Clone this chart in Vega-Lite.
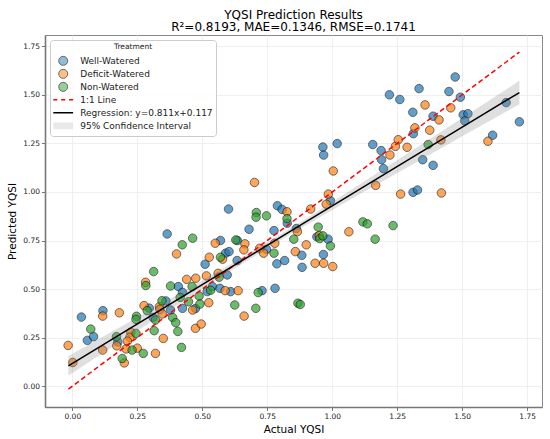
{
  "$schema": "https://vega.github.io/schema/vega-lite/v6.json",
  "width": 497,
  "height": 372,
  "autosize": {"type": "none"},
  "padding": {"left": 45, "top": 35, "right": 8, "bottom": 32},
  "title": {
    "text": ["YQSI Prediction Results", "R²=0.8193, MAE=0.1346, RMSE=0.1741"],
    "fontSize": 12,
    "fontWeight": "normal",
    "lineHeight": 12.5,
    "offset": 1,
    "anchor": "middle",
    "color": "black"
  },
  "config": {
    "font": "DejaVu Sans",
    "view": {"stroke": "#888888", "strokeWidth": 1},
    "axis": {
      "grid": true,
      "gridColor": "#ebebeb",
      "gridWidth": 0.8,
      "domainColor": "#777777",
      "domainWidth": 1.6,
      "tickColor": "#777777",
      "tickSize": 3.5,
      "labelFontSize": 7.5,
      "labelColor": "#222222",
      "labelPadding": 2,
      "titleFontSize": 10.5,
      "titleFontWeight": "normal",
      "titleColor": "black"
    }
  },
  "datasets": {
    "points": [
      {"actual": 0.035, "predicted": 0.356, "Treatment": "Well-Watered"},
      {"actual": 0.058, "predicted": 0.236, "Treatment": "Well-Watered"},
      {"actual": 0.082, "predicted": 0.255, "Treatment": "Well-Watered"},
      {"actual": 0.118, "predicted": 0.389, "Treatment": "Well-Watered"},
      {"actual": 0.175, "predicted": 0.228, "Treatment": "Well-Watered"},
      {"actual": 0.296, "predicted": 0.402, "Treatment": "Well-Watered"},
      {"actual": 0.311, "predicted": 0.354, "Treatment": "Well-Watered"},
      {"actual": 0.36, "predicted": 0.439, "Treatment": "Well-Watered"},
      {"actual": 0.378, "predicted": 0.392, "Treatment": "Well-Watered"},
      {"actual": 0.408, "predicted": 0.513, "Treatment": "Well-Watered"},
      {"actual": 0.424, "predicted": 0.483, "Treatment": "Well-Watered"},
      {"actual": 0.424, "predicted": 0.401, "Treatment": "Well-Watered"},
      {"actual": 0.365, "predicted": 0.784, "Treatment": "Well-Watered"},
      {"actual": 0.474, "predicted": 0.4, "Treatment": "Well-Watered"},
      {"actual": 0.511, "predicted": 0.628, "Treatment": "Well-Watered"},
      {"actual": 0.519, "predicted": 0.487, "Treatment": "Well-Watered"},
      {"actual": 0.539, "predicted": 0.513, "Treatment": "Well-Watered"},
      {"actual": 0.568, "predicted": 0.504, "Treatment": "Well-Watered"},
      {"actual": 0.57, "predicted": 0.75, "Treatment": "Well-Watered"},
      {"actual": 0.59, "predicted": 0.685, "Treatment": "Well-Watered"},
      {"actual": 0.603, "predicted": 0.693, "Treatment": "Well-Watered"},
      {"actual": 0.596, "predicted": 0.573, "Treatment": "Well-Watered"},
      {"actual": 0.609, "predicted": 0.487, "Treatment": "Well-Watered"},
      {"actual": 0.634, "predicted": 0.647, "Treatment": "Well-Watered"},
      {"actual": 0.635, "predicted": 0.75, "Treatment": "Well-Watered"},
      {"actual": 0.68, "predicted": 0.808, "Treatment": "Well-Watered"},
      {"actual": 0.73, "predicted": 0.492, "Treatment": "Well-Watered"},
      {"actual": 0.747, "predicted": 0.705, "Treatment": "Well-Watered"},
      {"actual": 0.601, "predicted": 0.912, "Treatment": "Well-Watered"},
      {"actual": 0.776, "predicted": 0.801, "Treatment": "Well-Watered"},
      {"actual": 0.78, "predicted": 0.504, "Treatment": "Well-Watered"},
      {"actual": 0.787, "predicted": 0.63, "Treatment": "Well-Watered"},
      {"actual": 0.789, "predicted": 0.929, "Treatment": "Well-Watered"},
      {"actual": 0.807, "predicted": 0.91, "Treatment": "Well-Watered"},
      {"actual": 0.817, "predicted": 0.647, "Treatment": "Well-Watered"},
      {"actual": 0.827, "predicted": 0.839, "Treatment": "Well-Watered"},
      {"actual": 0.862, "predicted": 0.812, "Treatment": "Well-Watered"},
      {"actual": 0.883, "predicted": 0.674, "Treatment": "Well-Watered"},
      {"actual": 0.884, "predicted": 0.612, "Treatment": "Well-Watered"},
      {"actual": 0.941, "predicted": 0.769, "Treatment": "Well-Watered"},
      {"actual": 0.966, "predicted": 0.678, "Treatment": "Well-Watered"},
      {"actual": 0.984, "predicted": 0.757, "Treatment": "Well-Watered"},
      {"actual": 0.993, "predicted": 0.955, "Treatment": "Well-Watered"},
      {"actual": 0.964, "predicted": 1.231, "Treatment": "Well-Watered"},
      {"actual": 0.967, "predicted": 1.19, "Treatment": "Well-Watered"},
      {"actual": 1.019, "predicted": 1.249, "Treatment": "Well-Watered"},
      {"actual": 1.156, "predicted": 1.244, "Treatment": "Well-Watered"},
      {"actual": 1.188, "predicted": 1.213, "Treatment": "Well-Watered"},
      {"actual": 1.19, "predicted": 1.166, "Treatment": "Well-Watered"},
      {"actual": 1.197, "predicted": 1.12, "Treatment": "Well-Watered"},
      {"actual": 1.22, "predicted": 1.5, "Treatment": "Well-Watered"},
      {"actual": 1.26, "predicted": 1.476, "Treatment": "Well-Watered"},
      {"actual": 1.31, "predicted": 1.41, "Treatment": "Well-Watered"},
      {"actual": 1.312, "predicted": 1.3, "Treatment": "Well-Watered"},
      {"actual": 1.311, "predicted": 0.998, "Treatment": "Well-Watered"},
      {"actual": 1.328, "predicted": 1.01, "Treatment": "Well-Watered"},
      {"actual": 1.334, "predicted": 1.532, "Treatment": "Well-Watered"},
      {"actual": 1.348, "predicted": 1.166, "Treatment": "Well-Watered"},
      {"actual": 1.388, "predicted": 1.39, "Treatment": "Well-Watered"},
      {"actual": 1.388, "predicted": 1.137, "Treatment": "Well-Watered"},
      {"actual": 1.449, "predicted": 1.517, "Treatment": "Well-Watered"},
      {"actual": 1.473, "predicted": 1.592, "Treatment": "Well-Watered"},
      {"actual": 1.493, "predicted": 1.488, "Treatment": "Well-Watered"},
      {"actual": 1.504, "predicted": 1.397, "Treatment": "Well-Watered"},
      {"actual": 1.522, "predicted": 1.403, "Treatment": "Well-Watered"},
      {"actual": 1.51, "predicted": 1.366, "Treatment": "Well-Watered"},
      {"actual": 1.617, "predicted": 1.292, "Treatment": "Well-Watered"},
      {"actual": 1.669, "predicted": 1.46, "Treatment": "Well-Watered"},
      {"actual": 1.72, "predicted": 1.361, "Treatment": "Well-Watered"},
      {"actual": -0.016, "predicted": 0.21, "Treatment": "Deficit-Watered"},
      {"actual": 0.002, "predicted": 0.122, "Treatment": "Deficit-Watered"},
      {"actual": 0.117, "predicted": 0.361, "Treatment": "Deficit-Watered"},
      {"actual": 0.117, "predicted": 0.186, "Treatment": "Deficit-Watered"},
      {"actual": 0.181, "predicted": 0.378, "Treatment": "Deficit-Watered"},
      {"actual": 0.171, "predicted": 0.208, "Treatment": "Deficit-Watered"},
      {"actual": 0.2, "predicted": 0.12, "Treatment": "Deficit-Watered"},
      {"actual": 0.225, "predicted": 0.278, "Treatment": "Deficit-Watered"},
      {"actual": 0.222, "predicted": 0.252, "Treatment": "Deficit-Watered"},
      {"actual": 0.212, "predicted": 0.232, "Treatment": "Deficit-Watered"},
      {"actual": 0.207, "predicted": 0.192, "Treatment": "Deficit-Watered"},
      {"actual": 0.25, "predicted": 0.196, "Treatment": "Deficit-Watered"},
      {"actual": 0.32, "predicted": 0.169, "Treatment": "Deficit-Watered"},
      {"actual": 0.282, "predicted": 0.535, "Treatment": "Deficit-Watered"},
      {"actual": 0.276, "predicted": 0.415, "Treatment": "Deficit-Watered"},
      {"actual": 0.335, "predicted": 0.409, "Treatment": "Deficit-Watered"},
      {"actual": 0.337, "predicted": 0.396, "Treatment": "Deficit-Watered"},
      {"actual": 0.35, "predicted": 0.246, "Treatment": "Deficit-Watered"},
      {"actual": 0.346, "predicted": 0.372, "Treatment": "Deficit-Watered"},
      {"actual": 0.401, "predicted": 0.681, "Treatment": "Deficit-Watered"},
      {"actual": 0.44, "predicted": 0.55, "Treatment": "Deficit-Watered"},
      {"actual": 0.475, "predicted": 0.556, "Treatment": "Deficit-Watered"},
      {"actual": 0.463, "predicted": 0.392, "Treatment": "Deficit-Watered"},
      {"actual": 0.474, "predicted": 0.298, "Treatment": "Deficit-Watered"},
      {"actual": 0.496, "predicted": 0.32, "Treatment": "Deficit-Watered"},
      {"actual": 0.516, "predicted": 0.568, "Treatment": "Deficit-Watered"},
      {"actual": 0.525, "predicted": 0.43, "Treatment": "Deficit-Watered"},
      {"actual": 0.527, "predicted": 0.664, "Treatment": "Deficit-Watered"},
      {"actual": 0.561, "predicted": 0.581, "Treatment": "Deficit-Watered"},
      {"actual": 0.55, "predicted": 0.736, "Treatment": "Deficit-Watered"},
      {"actual": 0.578, "predicted": 0.654, "Treatment": "Deficit-Watered"},
      {"actual": 0.588, "predicted": 0.492, "Treatment": "Deficit-Watered"},
      {"actual": 0.638, "predicted": 0.492, "Treatment": "Deficit-Watered"},
      {"actual": 0.664, "predicted": 0.733, "Treatment": "Deficit-Watered"},
      {"actual": 0.66, "predicted": 0.702, "Treatment": "Deficit-Watered"},
      {"actual": 0.661, "predicted": 0.361, "Treatment": "Deficit-Watered"},
      {"actual": 0.721, "predicted": 0.71, "Treatment": "Deficit-Watered"},
      {"actual": 0.736, "predicted": 0.685, "Treatment": "Deficit-Watered"},
      {"actual": 0.701, "predicted": 1.049, "Treatment": "Deficit-Watered"},
      {"actual": 0.779, "predicted": 0.736, "Treatment": "Deficit-Watered"},
      {"actual": 0.826, "predicted": 0.898, "Treatment": "Deficit-Watered"},
      {"actual": 0.866, "predicted": 0.796, "Treatment": "Deficit-Watered"},
      {"actual": 0.858, "predicted": 0.693, "Treatment": "Deficit-Watered"},
      {"actual": 0.9, "predicted": 0.728, "Treatment": "Deficit-Watered"},
      {"actual": 0.917, "predicted": 0.912, "Treatment": "Deficit-Watered"},
      {"actual": 0.934, "predicted": 0.633, "Treatment": "Deficit-Watered"},
      {"actual": 0.967, "predicted": 0.633, "Treatment": "Deficit-Watered"},
      {"actual": 1.002, "predicted": 0.616, "Treatment": "Deficit-Watered"},
      {"actual": 0.977, "predicted": 0.937, "Treatment": "Deficit-Watered"},
      {"actual": 0.985, "predicted": 0.989, "Treatment": "Deficit-Watered"},
      {"actual": 1.004, "predicted": 1.108, "Treatment": "Deficit-Watered"},
      {"actual": 1.064, "predicted": 0.795, "Treatment": "Deficit-Watered"},
      {"actual": 1.167, "predicted": 1.034, "Treatment": "Deficit-Watered"},
      {"actual": 1.222, "predicted": 1.19, "Treatment": "Deficit-Watered"},
      {"actual": 1.243, "predicted": 1.235, "Treatment": "Deficit-Watered"},
      {"actual": 1.254, "predicted": 1.269, "Treatment": "Deficit-Watered"},
      {"actual": 1.288, "predicted": 1.23, "Treatment": "Deficit-Watered"},
      {"actual": 1.263, "predicted": 0.989, "Treatment": "Deficit-Watered"},
      {"actual": 1.318, "predicted": 1.33, "Treatment": "Deficit-Watered"},
      {"actual": 1.357, "predicted": 1.448, "Treatment": "Deficit-Watered"},
      {"actual": 1.375, "predicted": 1.318, "Treatment": "Deficit-Watered"},
      {"actual": 1.411, "predicted": 1.371, "Treatment": "Deficit-Watered"},
      {"actual": 1.418, "predicted": 1.268, "Treatment": "Deficit-Watered"},
      {"actual": 1.42, "predicted": 0.995, "Treatment": "Deficit-Watered"},
      {"actual": 1.456, "predicted": 1.433, "Treatment": "Deficit-Watered"},
      {"actual": 1.599, "predicted": 1.261, "Treatment": "Deficit-Watered"},
      {"actual": 0.95, "predicted": 0.775, "Treatment": "Deficit-Watered"},
      {"actual": 0.071, "predicted": 0.294, "Treatment": "Non-Watered"},
      {"actual": 0.17, "predicted": 0.255, "Treatment": "Non-Watered"},
      {"actual": 0.192, "predicted": 0.143, "Treatment": "Non-Watered"},
      {"actual": 0.23, "predicted": 0.186, "Treatment": "Non-Watered"},
      {"actual": 0.245, "predicted": 0.272, "Treatment": "Non-Watered"},
      {"actual": 0.247, "predicted": 0.36, "Treatment": "Non-Watered"},
      {"actual": 0.245, "predicted": 0.344, "Treatment": "Non-Watered"},
      {"actual": 0.273, "predicted": 0.169, "Treatment": "Non-Watered"},
      {"actual": 0.283, "predicted": 0.518, "Treatment": "Non-Watered"},
      {"actual": 0.313, "predicted": 0.59, "Treatment": "Non-Watered"},
      {"actual": 0.288, "predicted": 0.389, "Treatment": "Non-Watered"},
      {"actual": 0.315, "predicted": 0.286, "Treatment": "Non-Watered"},
      {"actual": 0.345, "predicted": 0.44, "Treatment": "Non-Watered"},
      {"actual": 0.32, "predicted": 0.341, "Treatment": "Non-Watered"},
      {"actual": 0.378, "predicted": 0.516, "Treatment": "Non-Watered"},
      {"actual": 0.386, "predicted": 0.354, "Treatment": "Non-Watered"},
      {"actual": 0.398, "predicted": 0.327, "Treatment": "Non-Watered"},
      {"actual": 0.406, "predicted": 0.282, "Treatment": "Non-Watered"},
      {"actual": 0.42, "predicted": 0.2, "Treatment": "Non-Watered"},
      {"actual": 0.415, "predicted": 0.457, "Treatment": "Non-Watered"},
      {"actual": 0.423, "predicted": 0.728, "Treatment": "Non-Watered"},
      {"actual": 0.447, "predicted": 0.435, "Treatment": "Non-Watered"},
      {"actual": 0.463, "predicted": 0.762, "Treatment": "Non-Watered"},
      {"actual": 0.461, "predicted": 0.513, "Treatment": "Non-Watered"},
      {"actual": 0.488, "predicted": 0.464, "Treatment": "Non-Watered"},
      {"actual": 0.491, "predicted": 0.423, "Treatment": "Non-Watered"},
      {"actual": 0.532, "predicted": 0.494, "Treatment": "Non-Watered"},
      {"actual": 0.565, "predicted": 0.561, "Treatment": "Non-Watered"},
      {"actual": 0.57, "predicted": 0.664, "Treatment": "Non-Watered"},
      {"actual": 0.629, "predicted": 0.753, "Treatment": "Non-Watered"},
      {"actual": 0.625, "predicted": 0.418, "Treatment": "Non-Watered"},
      {"actual": 0.706, "predicted": 0.401, "Treatment": "Non-Watered"},
      {"actual": 0.715, "predicted": 0.482, "Treatment": "Non-Watered"},
      {"actual": 0.708, "predicted": 0.894, "Treatment": "Non-Watered"},
      {"actual": 0.707, "predicted": 0.87, "Treatment": "Non-Watered"},
      {"actual": 0.747, "predicted": 0.877, "Treatment": "Non-Watered"},
      {"actual": 0.776, "predicted": 0.685, "Treatment": "Non-Watered"},
      {"actual": 0.826, "predicted": 0.863, "Treatment": "Non-Watered"},
      {"actual": 0.852, "predicted": 0.757, "Treatment": "Non-Watered"},
      {"actual": 0.946, "predicted": 0.819, "Treatment": "Non-Watered"},
      {"actual": 0.952, "predicted": 0.76, "Treatment": "Non-Watered"},
      {"actual": 0.964, "predicted": 0.774, "Treatment": "Non-Watered"},
      {"actual": 0.993, "predicted": 0.722, "Treatment": "Non-Watered"},
      {"actual": 1.118, "predicted": 0.846, "Treatment": "Non-Watered"},
      {"actual": 1.135, "predicted": 0.836, "Treatment": "Non-Watered"},
      {"actual": 1.234, "predicted": 0.827, "Treatment": "Non-Watered"},
      {"actual": 1.165, "predicted": 0.757, "Treatment": "Non-Watered"},
      {"actual": 0.868, "predicted": 0.427, "Treatment": "Non-Watered"},
      {"actual": 0.877, "predicted": 0.421, "Treatment": "Non-Watered"},
      {"actual": 1.369, "predicted": 1.244, "Treatment": "Non-Watered"}
    ],
    "fit": [
      {"actual": -0.015, "fit": 0.1048, "lo": 0.055, "hi": 0.155},
      {"actual": 0.2, "fit": 0.2792, "lo": 0.2415, "hi": 0.3169},
      {"actual": 0.4, "fit": 0.4414, "lo": 0.4145, "hi": 0.4683},
      {"actual": 0.6, "fit": 0.6036, "lo": 0.5855, "hi": 0.6217},
      {"actual": 0.767, "fit": 0.739, "lo": 0.724, "hi": 0.754},
      {"actual": 0.9, "fit": 0.8469, "lo": 0.8298, "hi": 0.864},
      {"actual": 1.1, "fit": 1.0091, "lo": 0.9838, "hi": 1.0344},
      {"actual": 1.3, "fit": 1.1713, "lo": 1.1355, "hi": 1.2071},
      {"actual": 1.5, "fit": 1.3335, "lo": 1.2863, "hi": 1.3807},
      {"actual": 1.72, "fit": 1.5119, "lo": 1.4519, "hi": 1.5719}
    ],
    "diagonal": [
      {"actual": -0.015, "predicted": -0.015},
      {"actual": 1.72, "predicted": 1.72}
    ]
  },
  "layer": [
    {
      "data": {"name": "points"},
      "mark": {"type": "point", "filled": true, "size": 72},
      "encoding": {
        "x": {"field": "actual", "type": "quantitative", "title": "Actual YQSI", "scale": {"domain": [-0.105, 1.807], "nice": false, "zero": false}, "axis": {"titlePadding": 4, "values": [0, 0.25, 0.5, 0.75, 1, 1.25, 1.5, 1.75], "format": ".2f"}},
        "y": {"field": "predicted", "type": "quantitative", "title": "Predicted YQSI", "scale": {"domain": [-0.107, 1.808], "nice": false, "zero": false}, "axis": {"titlePadding": 5, "values": [0, 0.25, 0.5, 0.75, 1, 1.25, 1.5, 1.75], "format": ".2f"}},
        "fill": {
          "field": "Treatment",
          "type": "nominal",
          "scale": {
            "domain": ["Well-Watered", "Deficit-Watered", "Non-Watered", "1:1 Line", "Regression: y=0.811x+0.117", "95% Confidence Interval"],
            "range": ["#1f77b4", "#ff7f0e", "#2ca02c", "transparent", "transparent", "#808080"]
          },
          "legend": {
            "title": "Treatment",
            "orient": "none",
            "legendX": 5,
            "legendY": 5,
            "padding": 3,
            "fillColor": "rgba(255,255,255,0.85)",
            "strokeColor": "#cccccc",
            "cornerRadius": 3,
            "titleFontSize": 7.5,
            "titleFontWeight": "normal",
            "titleColor": "#222222",
            "titleAnchor": "middle",
            "titlePadding": 4,
            "labelFontSize": 9,
            "labelColor": "#222222",
            "labelOffset": 11.5,
            "symbolSize": 81,
            "symbolOffset": 4.7,
            "clipHeight": 12.7,
            "rowPadding": 0
          }
        },
        "shape": {
          "field": "Treatment",
          "type": "nominal",
          "scale": {
            "domain": ["Well-Watered", "Deficit-Watered", "Non-Watered", "1:1 Line", "Regression: y=0.811x+0.117", "95% Confidence Interval"],
            "range": ["circle", "circle", "circle", "M-2.2,0H-1.3M-0.45,0H0.45M1.3,0H2.2", "M-2.2,0H2.2", "M-2.2,-0.75H2.2V0.75H-2.2Z"]
          }
        },
        "stroke": {
          "field": "Treatment",
          "type": "nominal",
          "scale": {
            "domain": ["Well-Watered", "Deficit-Watered", "Non-Watered", "1:1 Line", "Regression: y=0.811x+0.117", "95% Confidence Interval"],
            "range": ["#000000", "#000000", "#000000", "#ff0000", "#000000", "transparent"]
          }
        },
        "opacity": {
          "field": "Treatment",
          "type": "nominal",
          "scale": {
            "type": "ordinal",
            "domain": ["Well-Watered", "Deficit-Watered", "Non-Watered", "1:1 Line", "Regression: y=0.811x+0.117", "95% Confidence Interval"],
            "range": [0.7, 0.7, 0.7, 1, 1, 0.25]
          }
        },
        "strokeWidth": {
          "field": "Treatment",
          "type": "nominal",
          "scale": {
            "type": "ordinal",
            "domain": ["Well-Watered", "Deficit-Watered", "Non-Watered", "1:1 Line", "Regression: y=0.811x+0.117", "95% Confidence Interval"],
            "range": [0.8, 0.8, 0.8, 1.5, 1.5, 0]
          }
        }
      }
    },
    {
      "data": {"name": "fit"},
      "mark": {"type": "area", "color": "#808080", "opacity": 0.25},
      "encoding": {
        "x": {"field": "actual", "type": "quantitative"},
        "y": {"field": "lo", "type": "quantitative"},
        "y2": {"field": "hi"}
      }
    },
    {
      "data": {"name": "diagonal"},
      "mark": {"type": "line", "color": "#ff0000", "strokeWidth": 1.5, "strokeDash": [5, 3]},
      "encoding": {
        "x": {"field": "actual", "type": "quantitative"},
        "y": {"field": "predicted", "type": "quantitative"}
      }
    },
    {
      "data": {"name": "fit"},
      "mark": {"type": "line", "color": "black", "strokeWidth": 1.5},
      "encoding": {
        "x": {"field": "actual", "type": "quantitative"},
        "y": {"field": "fit", "type": "quantitative"}
      }
    }
  ]
}
